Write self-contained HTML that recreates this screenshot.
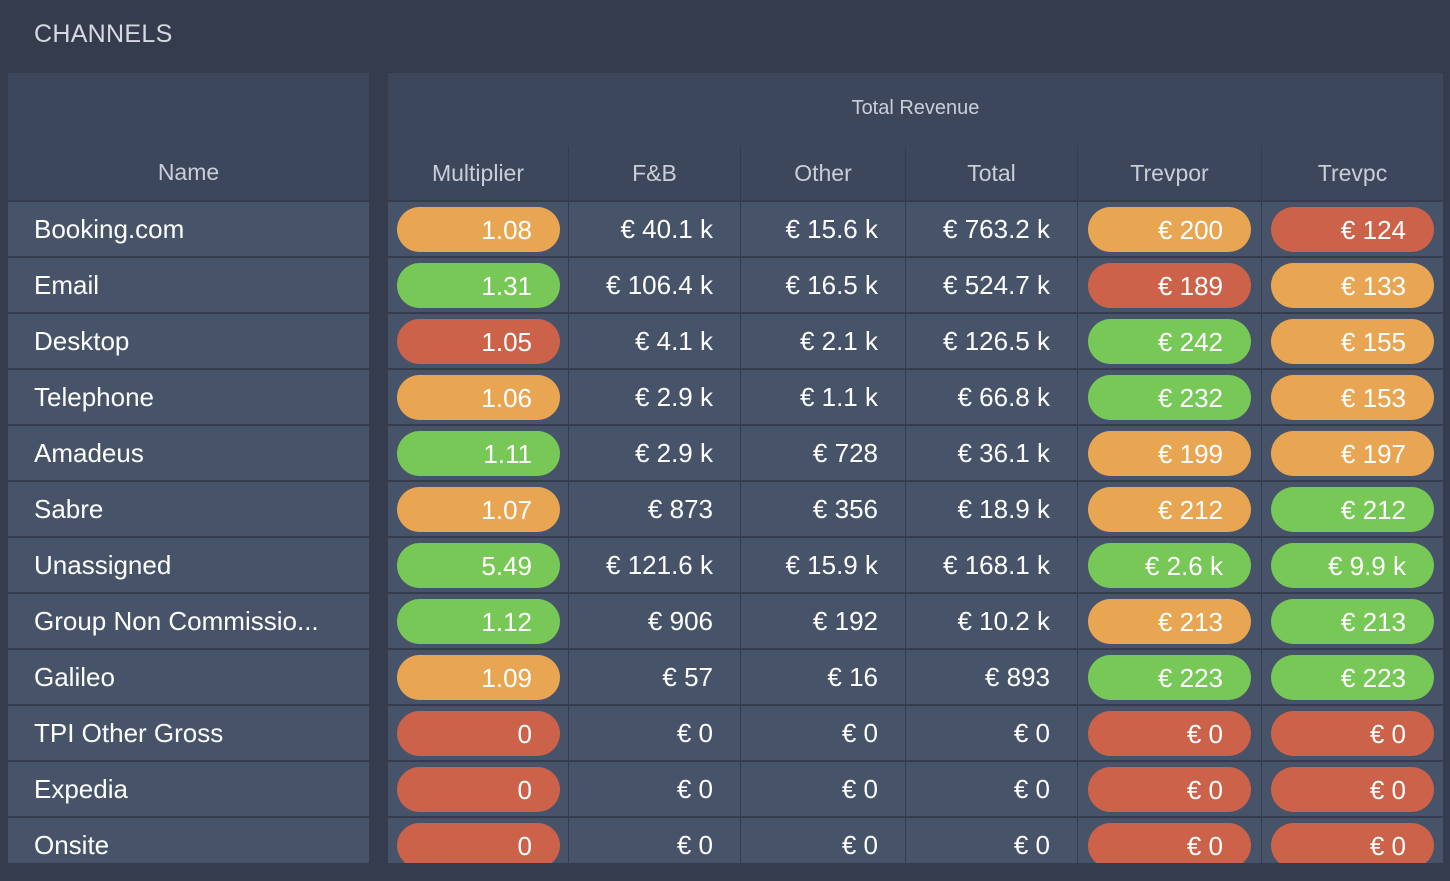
<!DOCTYPE html>
<html><head><meta charset="utf-8"><style>
*{margin:0;padding:0;box-sizing:border-box}
body{width:1450px;height:881px;background:#343c4e;font-family:"Liberation Sans",sans-serif;position:relative;overflow:hidden;color:#fff}
.t{position:absolute;left:34px;top:20px;font-size:25px;color:#d6d9df;letter-spacing:0.3px}
.hd{position:absolute;background:#3d475b;color:#c9ced8}
.r{position:absolute;left:0;width:1450px;height:54px}
.c{position:absolute;top:0;height:54px;background:#475369;font-size:26px;line-height:55px;text-align:right;padding-right:27px}
.n{left:8px;width:361px;text-align:left;padding-left:26px}
.p{position:absolute;top:5px;height:45px;border-radius:23px;line-height:46px;text-align:right;padding-right:28px;width:163px;left:9px}
.o{background:#e8a653}.g{background:#77c856}.x{background:#cc6249}
.m{left:388px;width:180px}.f{left:569px;width:171px}.ot{left:741px;width:164px}.tt{left:906px;width:171px}.tp{left:1078px;width:183px}.tc{left:1262px;width:181px}
.clip{position:absolute;left:0;top:0;width:1450px;height:863px;overflow:hidden}
.h2{top:146px;height:54px;text-align:center;font-size:23px;line-height:54px}
</style></head><body>
<div class="t">CHANNELS</div>
<div class="hd" style="left:8px;top:73px;width:361px;height:127px"><div style="position:absolute;bottom:14px;width:100%;text-align:center;font-size:23px">Name</div></div>
<div class="hd" style="left:388px;top:73px;width:1055px;height:73px;text-align:center;font-size:20px;line-height:70px">Total Revenue</div>
<div class="hd h2" style="left:388px;width:180px">Multiplier</div>
<div class="hd h2" style="left:569px;width:171px">F&amp;B</div>
<div class="hd h2" style="left:741px;width:164px">Other</div>
<div class="hd h2" style="left:906px;width:171px">Total</div>
<div class="hd h2" style="left:1078px;width:183px">Trevpor</div>
<div class="hd h2" style="left:1262px;width:181px">Trevpc</div>
<div class="clip">
<div class="r" style="top:202px"><div class="c n">Booking.com</div><div class="c m"><div class="p o">1.08</div></div><div class="c f">€ 40.1 k</div><div class="c ot">€ 15.6 k</div><div class="c tt">€ 763.2 k</div><div class="c tp"><div class="p o" style="left:10px">€ 200</div></div><div class="c tc"><div class="p x">€ 124</div></div></div>
<div class="r" style="top:258px"><div class="c n">Email</div><div class="c m"><div class="p g">1.31</div></div><div class="c f">€ 106.4 k</div><div class="c ot">€ 16.5 k</div><div class="c tt">€ 524.7 k</div><div class="c tp"><div class="p x" style="left:10px">€ 189</div></div><div class="c tc"><div class="p o">€ 133</div></div></div>
<div class="r" style="top:314px"><div class="c n">Desktop</div><div class="c m"><div class="p x">1.05</div></div><div class="c f">€ 4.1 k</div><div class="c ot">€ 2.1 k</div><div class="c tt">€ 126.5 k</div><div class="c tp"><div class="p g" style="left:10px">€ 242</div></div><div class="c tc"><div class="p o">€ 155</div></div></div>
<div class="r" style="top:370px"><div class="c n">Telephone</div><div class="c m"><div class="p o">1.06</div></div><div class="c f">€ 2.9 k</div><div class="c ot">€ 1.1 k</div><div class="c tt">€ 66.8 k</div><div class="c tp"><div class="p g" style="left:10px">€ 232</div></div><div class="c tc"><div class="p o">€ 153</div></div></div>
<div class="r" style="top:426px"><div class="c n">Amadeus</div><div class="c m"><div class="p g">1.11</div></div><div class="c f">€ 2.9 k</div><div class="c ot">€ 728</div><div class="c tt">€ 36.1 k</div><div class="c tp"><div class="p o" style="left:10px">€ 199</div></div><div class="c tc"><div class="p o">€ 197</div></div></div>
<div class="r" style="top:482px"><div class="c n">Sabre</div><div class="c m"><div class="p o">1.07</div></div><div class="c f">€ 873</div><div class="c ot">€ 356</div><div class="c tt">€ 18.9 k</div><div class="c tp"><div class="p o" style="left:10px">€ 212</div></div><div class="c tc"><div class="p g">€ 212</div></div></div>
<div class="r" style="top:538px"><div class="c n">Unassigned</div><div class="c m"><div class="p g">5.49</div></div><div class="c f">€ 121.6 k</div><div class="c ot">€ 15.9 k</div><div class="c tt">€ 168.1 k</div><div class="c tp"><div class="p g" style="left:10px">€ 2.6 k</div></div><div class="c tc"><div class="p g">€ 9.9 k</div></div></div>
<div class="r" style="top:594px"><div class="c n">Group Non Commissio...</div><div class="c m"><div class="p g">1.12</div></div><div class="c f">€ 906</div><div class="c ot">€ 192</div><div class="c tt">€ 10.2 k</div><div class="c tp"><div class="p o" style="left:10px">€ 213</div></div><div class="c tc"><div class="p g">€ 213</div></div></div>
<div class="r" style="top:650px"><div class="c n">Galileo</div><div class="c m"><div class="p o">1.09</div></div><div class="c f">€ 57</div><div class="c ot">€ 16</div><div class="c tt">€ 893</div><div class="c tp"><div class="p g" style="left:10px">€ 223</div></div><div class="c tc"><div class="p g">€ 223</div></div></div>
<div class="r" style="top:706px"><div class="c n">TPI Other Gross</div><div class="c m"><div class="p x">0</div></div><div class="c f">€ 0</div><div class="c ot">€ 0</div><div class="c tt">€ 0</div><div class="c tp"><div class="p x" style="left:10px">€ 0</div></div><div class="c tc"><div class="p x">€ 0</div></div></div>
<div class="r" style="top:762px"><div class="c n">Expedia</div><div class="c m"><div class="p x">0</div></div><div class="c f">€ 0</div><div class="c ot">€ 0</div><div class="c tt">€ 0</div><div class="c tp"><div class="p x" style="left:10px">€ 0</div></div><div class="c tc"><div class="p x">€ 0</div></div></div>
<div class="r" style="top:818px"><div class="c n">Onsite</div><div class="c m"><div class="p x">0</div></div><div class="c f">€ 0</div><div class="c ot">€ 0</div><div class="c tt">€ 0</div><div class="c tp"><div class="p x" style="left:10px">€ 0</div></div><div class="c tc"><div class="p x">€ 0</div></div></div>
</div>
</body></html>
